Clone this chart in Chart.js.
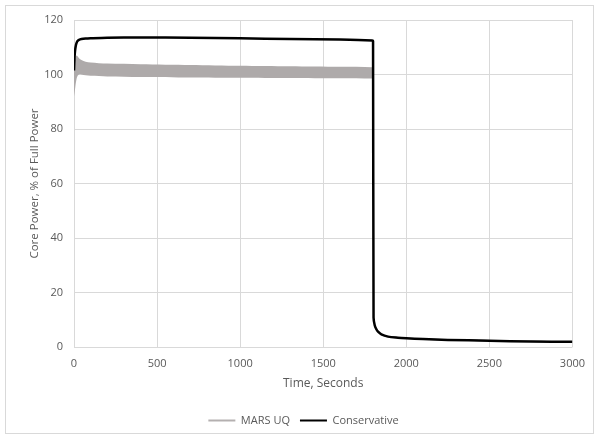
<!DOCTYPE html>
<html>
<head>
<meta charset="utf-8">
<script src="https://cdn.jsdelivr.net/npm/chart.js@4"></script>
<style>
  html, body { margin: 0; padding: 0; background: #fff; }
  #wrap { width: 595px; height: 439px; position: relative; }
</style>
</head>
<body>
<div id="wrap"><canvas id="power-chart" width="595" height="439"></canvas></div>
<script>
Chart.defaults.font.family = 'Open Sans';
Chart.defaults.color = '#595959';

// Conservative case
var consTime = [0, 3, 6, 10, 15, 20, 30, 45, 70, 100, 200, 400, 700, 1000, 1300, 1600, 1795,
  1800, 1803, 1810, 1820, 1830, 1850, 1890, 1950, 2000, 2100, 2250, 2500, 2750, 3000];
var consPower = [101.5, 106, 108.5, 110.3, 111.5, 112.2, 112.7, 113.0, 113.2, 113.3, 113.5, 113.6, 113.5, 113.3, 113.0, 112.8, 112.5,
  112.3, 10.8, 8.0, 6.5, 5.6, 4.6, 3.8, 3.4, 3.2, 2.9, 2.6, 2.3, 2.0, 1.9];

// MARS UQ band (upper / lower envelope)
var uqTime = [0, 5, 10, 15, 20, 30, 45, 70, 100, 200, 400, 700, 1000, 1300, 1600, 1795,
  1800, 1803, 1810, 1820, 1830, 1850, 1890, 1950, 2000, 2100, 2250, 2500, 2750, 3000];
var uqUpper = [101, 105, 106.5, 107, 106.8, 106, 105.3, 104.7, 104.4, 104.0, 103.8, 103.5, 103.2, 103.0, 102.8, 102.7,
  102.6, 11.5, 8.6, 7.0, 6.0, 5.0, 4.1, 3.7, 3.5, 3.2, 2.9, 2.6, 2.3, 2.2];
var uqLower = [92, 94, 96.5, 98.3, 99.3, 100, 100, 99.7, 99.5, 99.3, 99.1, 98.9, 98.8, 98.7, 98.6, 98.5,
  98.4, 10.2, 7.6, 6.1, 5.3, 4.3, 3.6, 3.2, 3.0, 2.7, 2.4, 2.1, 1.9, 1.8];

var xTicks = [0, 500, 1000, 1500, 2000, 2500, 3000];
var yTicks = [0, 20, 40, 60, 80, 100, 120];

function pts(xs, ys) {
  return xs.map(function (x, i) { return { x: x, y: ys[i] }; });
}

var frame = {
  id: 'frame',
  beforeDraw: function (chart) {
    var c = chart.ctx;
    c.save();
    c.fillStyle = '#fff';
    c.fillRect(0, 0, chart.width, chart.height);
    c.strokeStyle = '#d9d9d9';
    c.lineWidth = 1;
    c.strokeRect(5.5, 5.5, 588, 428);
    c.restore();
  },
  afterLayout: function (chart) {
    // legend sits centred under the plot rather than the canvas
    chart.legend.left += 17;
    chart.legend.right += 17;
  }
};

var ctx = document.getElementById('power-chart').getContext('2d');
var chart = new Chart(ctx, {
  type: 'line',
  data: {
    datasets: [
      {
        label: 'MARS UQ',
        data: pts(uqTime, uqUpper),
        borderColor: 'rgba(0,0,0,0)',
        backgroundColor: '#aeaaaa',
        borderWidth: 0,
        pointRadius: 0,
        tension: 0.3,
        fill: { target: 2 },
        order: 1
      },
      {
        label: 'Conservative',
        data: pts(consTime, consPower),
        borderColor: '#000',
        backgroundColor: '#000',
        borderWidth: 2.5,
        pointRadius: 0,
        tension: 0.3,
        fill: false,
        order: 0
      },
      {
        label: 'lower',
        data: pts(uqTime, uqLower),
        borderColor: 'rgba(0,0,0,0)',
        backgroundColor: '#aeaaaa',
        borderWidth: 0,
        pointRadius: 0,
        tension: 0.3,
        fill: false,
        order: 2
      }
    ]
  },
  options: {
    responsive: false,
    animation: false,
    layout: { padding: { top: 20, right: 22, left: 0, bottom: 3 } },
    plugins: {
      tooltip: { enabled: false },
      legend: {
        position: 'bottom',
        labels: {
          boxWidth: 27,
          boxHeight: 2,
          padding: 10,
          font: { size: 11 },
          color: '#595959',
          filter: function (item) { return item.text !== 'lower'; },
          sort: function (a, b) { return a.datasetIndex - b.datasetIndex; },
          generateLabels: function (ch) {
            var items = Chart.defaults.plugins.legend.labels.generateLabels(ch);
            items.forEach(function (it) {
              it.lineWidth = 0;
              it.strokeStyle = 'rgba(0,0,0,0)';
              it.fillStyle = it.datasetIndex === 0 ? '#b4b0b0' : '#000';
            });
            return items;
          }
        }
      }
    },
    scales: {
      x: {
        type: 'linear',
        min: 0,
        max: 3000,
        afterBuildTicks: function (s) { s.ticks = xTicks.map(function (v) { return { value: v }; }); },
        afterFit: function (s) { s.height = 58; },
        grid: { color: '#d9d9d9', drawTicks: false },
        border: { display: false },
        ticks: { padding: 10, font: { size: 11 }, color: '#595959', maxRotation: 0,
          callback: function (v) { return String(v); } },
        title: { display: true, text: 'Time, Seconds', font: { size: 12 }, color: '#595959', padding: { top: 4, bottom: 14 } }
      },
      y: {
        min: 0,
        max: 120,
        afterBuildTicks: function (s) { s.ticks = yTicks.map(function (v) { return { value: v }; }); },
        afterFit: function (s) { s.width = 74; },
        grid: { color: '#d9d9d9', drawTicks: false },
        border: { display: false },
        ticks: { padding: 11, font: { size: 11 }, color: '#595959' },
        title: { display: true, text: 'Core Power, % of Full Power', font: { size: 11.5 }, color: '#595959', padding: { top: 28, bottom: 0 } }
      }
    }
  },
  plugins: [frame]
});
</script>
</body>
</html>
